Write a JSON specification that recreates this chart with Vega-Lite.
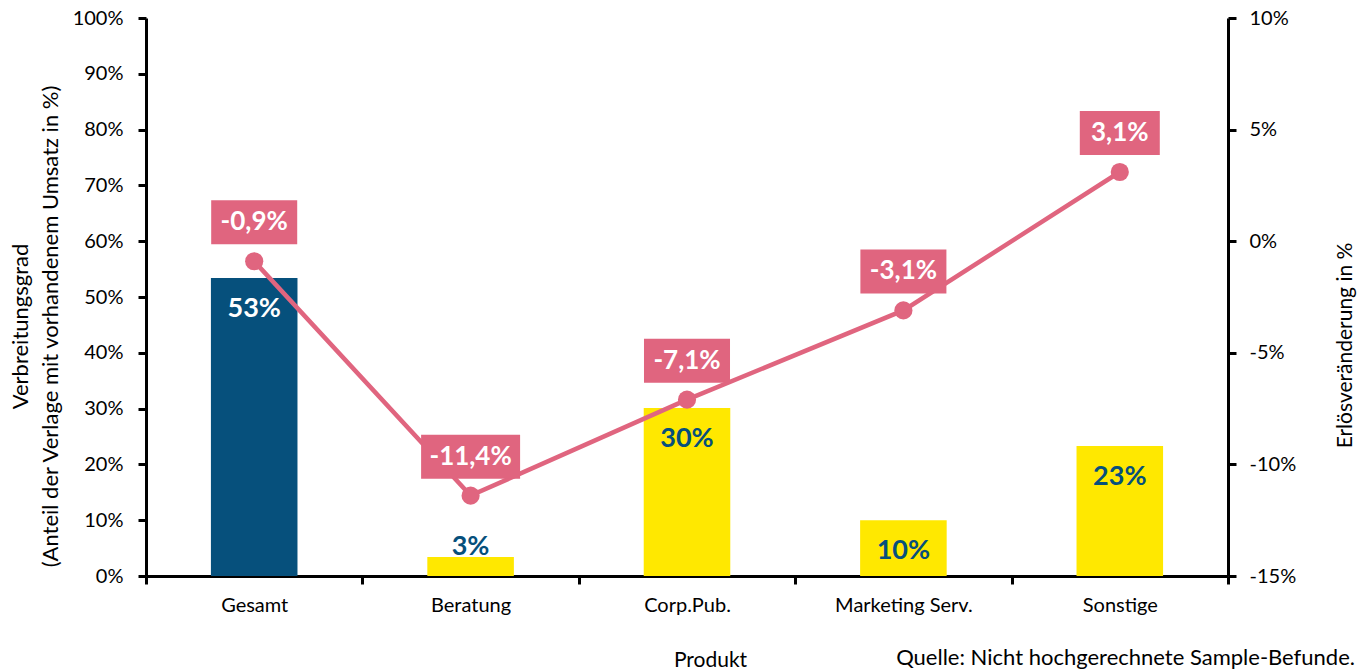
{
  "$schema": "https://vega.github.io/schema/vega-lite/v6.json",
  "width": 1082,
  "height": 558,
  "autosize": {"type": "none"},
  "padding": {"left": 146, "top": 18, "right": 134, "bottom": 94},
  "config": {
    "locale": {"number": {"decimal": ",", "thousands": ".", "grouping": [3], "currency": ["", " €"], "minus": "-", "percent": "%"}},
    "font": "Lato",
    "view": {"stroke": null},
    "axis": {
      "labelFont": "Lato", "labelFontSize": 20, "labelColor": "#000",
      "titleFont": "Lato", "titleFontSize": 21, "titleFontWeight": "normal", "titleColor": "#000",
      "domainColor": "#000", "domainWidth": 3, "tickColor": "#000", "tickWidth": 3, "tickSize": 8, "grid": false
    }
  },
  "title": {
    "text": "Quelle: Nicht hochgerechnete Sample-Befunde.",
    "orient": "bottom", "anchor": "end", "frame": "bounds",
    "font": "Lato", "fontSize": 22, "fontWeight": "normal", "color": "#000",
    "offset": 0, "baseline": "alphabetic", "dy": -5
  },
  "data": {"values": [
    {"Produkt": "Gesamt", "Verbreitung": 0.534, "Veraenderung": -0.009},
    {"Produkt": "Beratung", "Verbreitung": 0.034, "Veraenderung": -0.114},
    {"Produkt": "Corp.Pub.", "Verbreitung": 0.301, "Veraenderung": -0.071},
    {"Produkt": "Marketing Serv.", "Verbreitung": 0.100, "Veraenderung": -0.031},
    {"Produkt": "Sonstige", "Verbreitung": 0.233, "Veraenderung": 0.031}
  ]},
  "layer": [
    {
      "encoding": {
        "x": {
          "field": "Produkt", "type": "nominal", "sort": null,
          "scale": {"paddingInner": 0, "paddingOuter": 0},
          "axis": {
            "title": "Produkt", "labelAngle": 0, "tickBand": "extent", "labelPadding": 11,
            "titleX": 564, "titleY": 90, "titleBaseline": "alphabetic", "titleAlign": "center"
          }
        },
        "y": {
          "field": "Verbreitung", "type": "quantitative",
          "scale": {"domain": [0, 1], "nice": false},
          "axis": {
            "values": [0, 0.1, 0.2, 0.3, 0.4, 0.5, 0.6, 0.7, 0.8, 0.9, 1],
            "format": ".0%", "labelPadding": 15,
            "title": ["Verbreitungsgrad", "(Anteil der Verlage mit vorhandenem Umsatz in %)"],
            "titleFontSize": 22,
            "titleAngle": -90, "titleX": -126, "titleY": 308, "titleAlign": "center", "titleBaseline": "middle", "titleLineHeight": 30
          }
        }
      },
      "layer": [
        {
          "mark": {"type": "bar", "width": {"band": 0.4}},
          "encoding": {
            "color": {"condition": {"test": "datum.Produkt === 'Gesamt'", "value": "#06507c"}, "value": "#ffe800"}
          }
        },
        {
          "transform": [{"filter": "datum.Verbreitung >= 0.05"}],
          "mark": {"type": "text", "baseline": "middle", "dy": 31, "fontSize": 27, "fontWeight": "bold", "font": "Lato"},
          "encoding": {
            "text": {"field": "Verbreitung", "type": "quantitative", "format": ".0%"},
            "color": {"condition": {"test": "datum.Produkt === 'Gesamt'", "value": "#ffffff"}, "value": "#06507c"}
          }
        },
        {
          "transform": [{"filter": "datum.Verbreitung < 0.05"}],
          "mark": {"type": "text", "baseline": "middle", "dy": -10, "fontSize": 27, "fontWeight": "bold", "font": "Lato", "color": "#06507c"},
          "encoding": {
            "text": {"field": "Verbreitung", "type": "quantitative", "format": ".0%"}
          }
        }
      ]
    },
    {
      "encoding": {
        "x": {"field": "Produkt", "type": "nominal", "sort": null},
        "y": {
          "field": "Veraenderung", "type": "quantitative",
          "scale": {"domain": [-0.15, 0.1], "nice": false},
          "axis": {
            "orient": "right",
            "values": [-0.15, -0.1, -0.05, 0, 0.05, 0.1],
            "format": ".0%", "labelPadding": 13,
            "title": "Erlösveränderung in %",
            "titleAngle": -90, "titleX": 117, "titleY": 327, "titleAlign": "center", "titleBaseline": "middle"
          }
        }
      },
      "layer": [
        {"mark": {"type": "line", "color": "#e0657f", "strokeWidth": 4.5}},
        {"mark": {"type": "point", "filled": true, "opacity": 1, "color": "#e0657f", "size": 330, "shape": "circle"}},
        {
          "mark": {"type": "point", "filled": true, "opacity": 1, "color": "#e0657f", "size": 1936, "strokeWidth": 0},
          "encoding": {
            "shape": {
              "condition": [
                {"test": "datum.Veraenderung <= -0.1", "value": "M-2.25,-2.773H2.25V-0.773H-2.25Z"},
                {"test": "datum.Veraenderung >= 0", "value": "M-1.818,-2.773H1.818V-0.773H-1.818Z"}
              ],
              "value": "M-1.955,-2.773H1.955V-0.773H-1.955Z"
            }
          }
        },
        {
          "mark": {"type": "text", "baseline": "middle", "dy": -39, "fontSize": 26, "fontWeight": "bold", "font": "Lato", "color": "#ffffff"},
          "encoding": {
            "text": {"field": "Veraenderung", "type": "quantitative", "format": ".1%"}
          }
        }
      ]
    }
  ],
  "resolve": {"scale": {"y": "independent"}}
}
